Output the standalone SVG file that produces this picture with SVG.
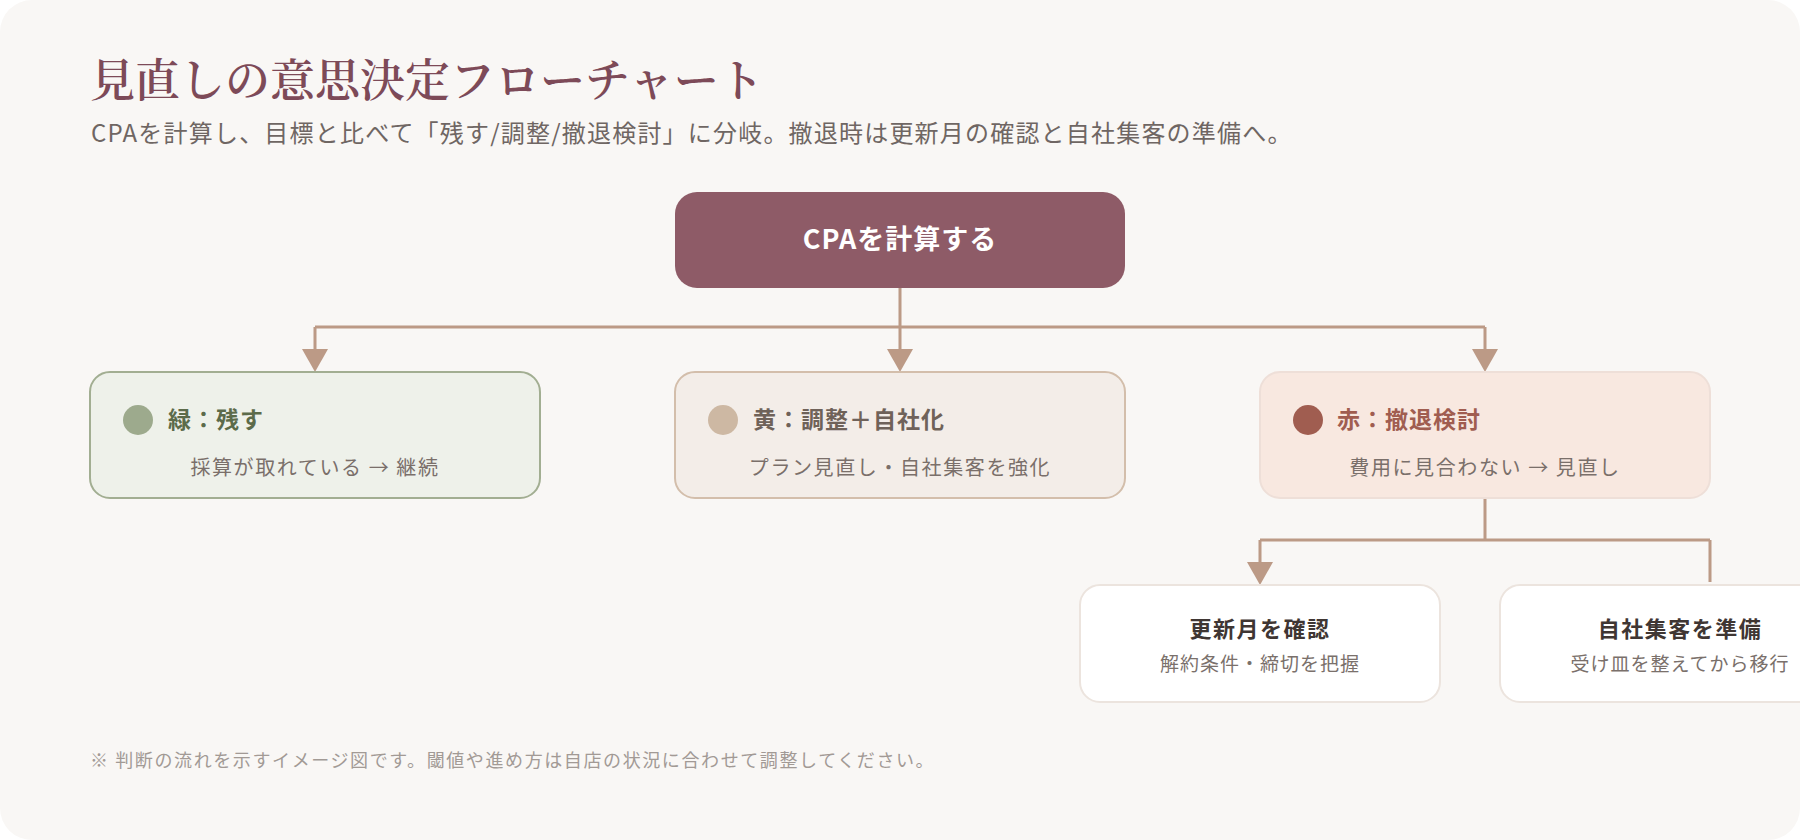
<svg xmlns="http://www.w3.org/2000/svg" width="1800" height="840" viewBox="0 0 1800 840">
  <defs>
    <style>
      .sans { font-family: "Noto Sans CJK JP", "Noto Sans", sans-serif; }
      .title { font-family: "Noto Serif CJK JP", "Liberation Serif", serif; font-size: 45px; fill: #7D4A58; font-weight: 600; }
      .subtitle { font-size: 24px; fill: #6F6663; letter-spacing: 1.2px; }
      .footer { font-size: 18px; fill: #A29A95; letter-spacing: 1.6px; }
      .conn { fill: none; stroke: #BC9A86; stroke-width: 3; }
      .head { fill: #BC9A86; }
      .btitle { font-size: 23px; font-weight: 700; letter-spacing: 1px; }
      .bsub { font-size: 20px; fill: #7A6F6A; letter-spacing: 1.6px; text-anchor: middle; }
      .ctitle { font-size: 22px; font-weight: 700; fill: #3F3633; letter-spacing: 1.5px; text-anchor: middle; }
      .csub { font-size: 19px; fill: #7A706B; letter-spacing: 1px; text-anchor: middle; }
    </style>
  </defs>

  <rect x="0" y="0" width="1800" height="840" fill="#FFFFFF"/>
  <rect x="0" y="0" width="1800" height="840" rx="32" fill="#F9F7F5"/>

  <text class="title" x="90" y="97">見直しの意思決定フローチャート</text>
  <text class="sans subtitle" x="91" y="142">CPAを計算し、目標と比べて「残す/調整/撤退検討」に分岐。撤退時は更新月の確認と自社集客の準備へ。</text>

  <g id="connectors">
    <path class="conn" d="M900,288 V327 M315,327 H1485 M315,327 V350 M900,327 V350 M1485,327 V350"/>
    <path class="head" d="M302,349 L328,349 L315,372 Z"/>
    <path class="head" d="M887,349 L913,349 L900,372 Z"/>
    <path class="head" d="M1472,349 L1498,349 L1485,372 Z"/>
    <path class="conn" d="M1485,498 V540 M1260,540 H1710 M1260,540 V563 M1710,540 V582"/>
    <path class="head" d="M1247,562 L1273,562 L1260,585 Z"/>
  </g>

  <g id="node-cpa">
    <rect x="675" y="192" width="450" height="96" rx="22" fill="#8E5B67"/>
    <text class="sans" x="900" y="249" text-anchor="middle" font-size="27" font-weight="700" fill="#FFFFFF" letter-spacing="1">CPAを計算する</text>
  </g>

  <g id="node-green">
    <rect x="90" y="372" width="450" height="126" rx="20" fill="#EEF1EA" stroke="#A2AE92" stroke-width="2"/>
    <circle cx="138" cy="420" r="15" fill="#9DAA8D"/>
    <text class="sans btitle" x="168" y="428" fill="#5C6B4A">緑：残す</text>
    <text class="sans bsub" x="315" y="475">採算が取れている → 継続</text>
  </g>

  <g id="node-yellow">
    <rect x="675" y="372" width="450" height="126" rx="20" fill="#F3EDE8" stroke="#D3BEAB" stroke-width="2"/>
    <circle cx="723" cy="420" r="15" fill="#CDB8A3"/>
    <text class="sans btitle" x="753" y="428" fill="#6F6259">黄：調整＋自社化</text>
    <text class="sans bsub" x="900" y="475">プラン見直し・自社集客を強化</text>
  </g>

  <g id="node-red">
    <rect x="1260" y="372" width="450" height="126" rx="20" fill="#F8E8E0" stroke="#EEDFD8" stroke-width="2"/>
    <circle cx="1308" cy="420" r="15" fill="#A05D50"/>
    <text class="sans btitle" x="1337" y="428" fill="#A05D50">赤：撤退検討</text>
    <text class="sans bsub" x="1485" y="475">費用に見合わない → 見直し</text>
  </g>

  <g id="node-renewal">
    <rect x="1080" y="585" width="360" height="117" rx="20" fill="#FFFFFF" stroke="#ECE4DE" stroke-width="2"/>
    <text class="sans ctitle" x="1260" y="637">更新月を確認</text>
    <text class="sans csub" x="1260" y="671">解約条件・締切を把握</text>
  </g>

  <g id="node-inhouse">
    <rect x="1500" y="585" width="360" height="117" rx="20" fill="#FFFFFF" stroke="#ECE4DE" stroke-width="2"/>
    <text class="sans ctitle" x="1680" y="637">自社集客を準備</text>
    <text class="sans csub" x="1680" y="671">受け皿を整えてから移行</text>
  </g>

  <text class="sans footer" x="90" y="767">※ 判断の流れを示すイメージ図です。閾値や進め方は自店の状況に合わせて調整してください。</text>
</svg>
